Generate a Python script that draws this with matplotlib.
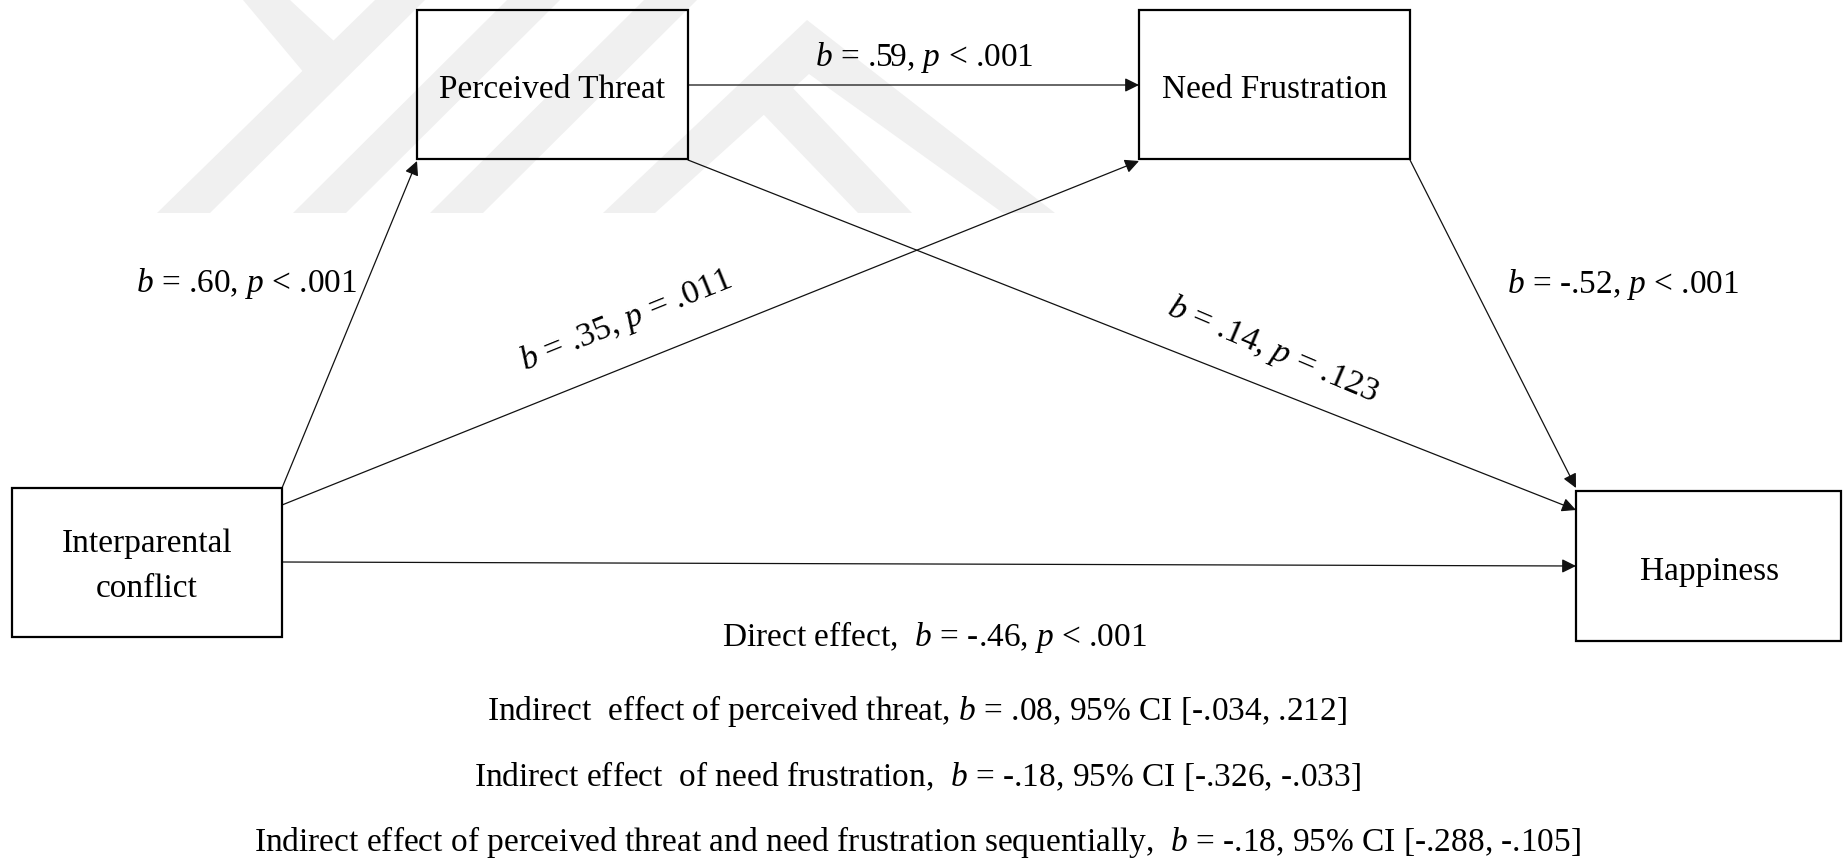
import matplotlib
matplotlib.use("Agg")
import matplotlib.pyplot as plt
from matplotlib.patches import Rectangle, Polygon, FancyArrowPatch

plt.rcParams['font.family'] = ['Liberation Serif', 'DejaVu Serif']
plt.rcParams['mathtext.fontset'] = 'custom'
plt.rcParams['mathtext.rm'] = 'Liberation Serif'
plt.rcParams['mathtext.it'] = 'Liberation Serif:italic'

# --- model values ---
node_keys = ["PT", "NF", "IC", "H"]
node_names = ["Perceived Threat", "Need Frustration", "Interparental\nconflict", "Happiness"]

path_src = ["IC", "IC", "PT", "PT", "NF", "IC"]
path_dst = ["PT", "NF", "NF", "H", "H", "H"]
path_b = [".60", ".35", ".59", ".14", "-.52", "-.46"]
path_p = ["< .001", "= .011", "< .001", "= .123", "< .001", "< .001"]

indirect_prefix = ["Indirect  effect of perceived threat, ",
                   "Indirect effect  of need frustration,  ",
                   "Indirect effect of perceived threat and need frustration sequentially,  "]
indirect_b = [".08", "-.18", "-.18"]
indirect_lo = ["-.034", "-.326", "-.288"]
indirect_hi = [".212", "-.033", "-.105"]

# --- layout (pixel space, y down) ---
W, H = 1843, 859
boxes = {"PT": (417, 10, 688, 159), "NF": (1139, 10, 1410, 159),
         "IC": (12, 488, 282, 637), "H": (1576, 491, 1841, 641)}
name_pos = {"PT": (552, 98), "NF": (1275, 98), "IC": (147, 552), "H": (1710, 580)}
arrow_ends = [((282, 488), (417, 161)),
              ((282, 505), (1139, 161)),
              ((688, 85), (1139, 85)),
              ((688, 160), (1576, 510)),
              ((1410, 160), (1576, 488)),
              ((282, 562), (1576, 566))]
label_pos = [(247, 292, 0), (626, 321, 22), (924, 66, 0), (1273, 350, -23),
             (1623, 293, 0), (934, 646, 0)]
indirect_y = [720, 786, 851]
fs = 24

fig = plt.figure(figsize=(W / 100, H / 100), dpi=100)
ax = fig.add_axes([0, 0, 1, 1])
ax.set_xlim(0, W)
ax.set_ylim(H, 0)
ax.axis('off')

# faint watermark in the background
wm = '#f0f0f0'
shapes = [
    [(243, 0), (290, 0), (335, 42), (305, 74)],
    [(157, 213), (210, 213), (425, 0), (375, 0)],
    [(293, 213), (346, 213), (560, 0), (507, 0)],
    [(430, 213), (483, 213), (697, 0), (644, 0)],
    [(603, 213), (807, 20), (1055, 213), (1003, 213), (809, 74), (655, 213)],
    [(742, 92), (770, 64), (912, 213), (858, 213)],
]
for s in shapes:
    ax.add_patch(Polygon(s, closed=True, fc=wm, ec='none', zorder=0))

for k, name in zip(node_keys, node_names):
    x0, y0, x1, y1 = boxes[k]
    ax.add_patch(Rectangle((x0, y0), x1 - x0, y1 - y0, fill=False,
                           ec='black', lw=1.6, zorder=3))
    tx, ty = name_pos[k]
    for i, part in enumerate(name.split("\n")):
        ax.text(tx, ty + i * 45, part, ha='center', va='baseline',
                fontsize=fs, zorder=4)

for (a, b), (lx, ly, rot), bv, pv in zip(arrow_ends, label_pos, path_b, path_p):
    ax.add_patch(FancyArrowPatch(a, b, arrowstyle='-|>,head_length=0.85,head_width=0.42',
                                 mutation_scale=10, lw=0.9, color='#111111',
                                 shrinkA=0, shrinkB=0, zorder=2))
    txt = "$b$ = " + bv + ", $p$ " + pv
    if ly > 600:
        txt = "Direct effect,  " + txt
    if rot:
        ax.text(lx, ly, txt, ha='center', va='center', rotation=rot,
                rotation_mode='anchor', fontsize=24.5, zorder=4)
    else:
        ax.text(lx, ly, txt, ha='center', va='baseline', fontsize=fs, zorder=4)

for pre, bv, lo, hi, y in zip(indirect_prefix, indirect_b, indirect_lo, indirect_hi, indirect_y):
    ax.text(917, y, pre + "$b$ = " + bv + ", 95% CI [" + lo + ", " + hi + "]",
            ha='center', va='baseline', fontsize=fs, zorder=4)

fig.savefig("out.png", dpi=100)
